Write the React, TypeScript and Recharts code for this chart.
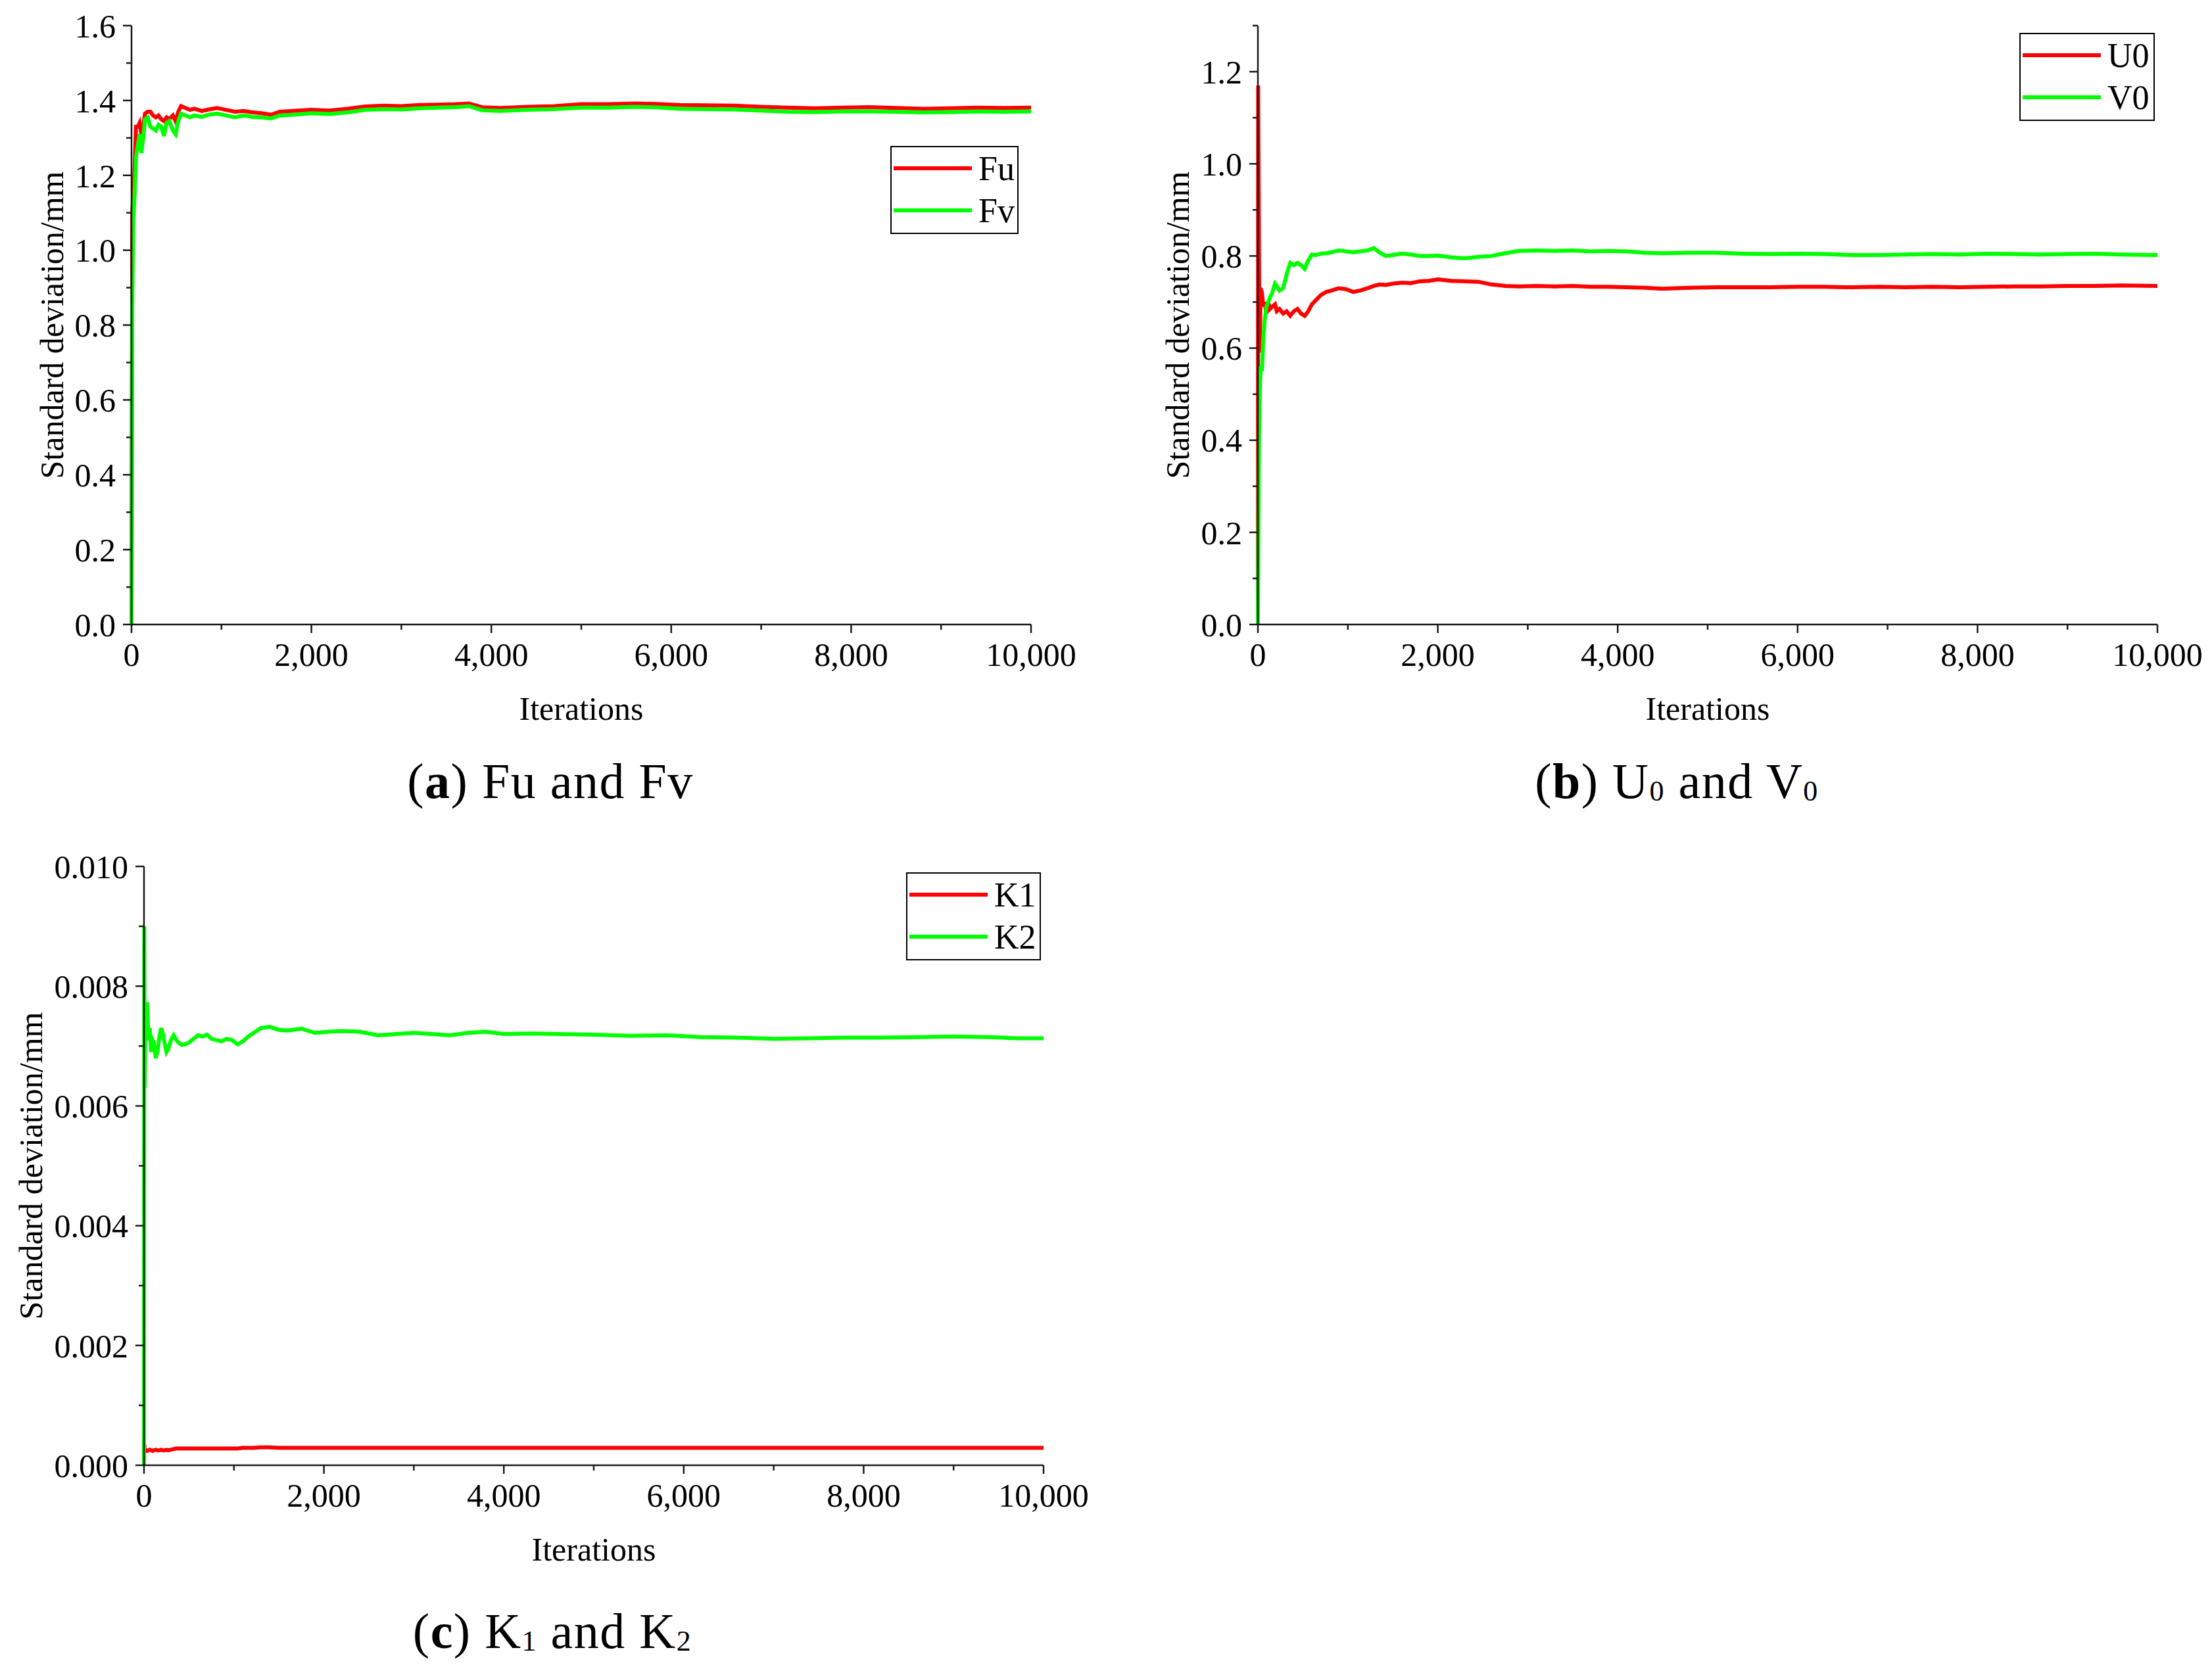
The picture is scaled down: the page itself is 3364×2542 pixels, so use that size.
import { LineChart, Line, XAxis, YAxis, Legend, Label } from 'recharts';

// ---- data ----
const X_TICKS = [0, 1000, 2000, 3000, 4000, 5000, 6000, 7000, 8000, 9000, 10000];

// (a) Fu and Fv
const A_ITER = [
  0, 8, 20, 35, 50, 70, 90, 110, 130, 150,
  180, 210, 240, 270, 300, 330, 360, 390, 420, 460,
  490, 520, 550, 600, 650, 700, 780, 860, 950, 1050,
  1150, 1250, 1350, 1450, 1550, 1650, 1800, 2000, 2200, 2400,
  2600, 2800, 3000, 3200, 3400, 3600, 3750, 3900, 4100, 4400,
  4700, 5000, 5300, 5600, 5800, 6100, 6400, 6700, 7000, 7300,
  7600, 7900, 8200, 8500, 8800, 9100, 9400, 9700, 10000,
];
const A_FU = [
  0, 1.1, 1.15, 1.22, 1.33, 1.33, 1.34, 1.31, 1.33, 1.365,
  1.37, 1.37, 1.36, 1.355, 1.36, 1.35, 1.345, 1.355, 1.35, 1.36,
  1.345, 1.37, 1.385, 1.38, 1.375, 1.378, 1.372, 1.376, 1.38, 1.375,
  1.37, 1.372, 1.368, 1.366, 1.362, 1.37, 1.372, 1.375, 1.373, 1.378,
  1.384, 1.386, 1.385, 1.388, 1.389, 1.39, 1.392, 1.382, 1.38, 1.383,
  1.385, 1.39, 1.39, 1.392, 1.391, 1.388, 1.387, 1.386, 1.383, 1.381,
  1.379, 1.381, 1.382, 1.38, 1.378, 1.379, 1.381, 1.38, 1.381,
];
const A_FV = [
  0, 0.85, 1.08, 1.15, 1.25, 1.28, 1.31, 1.26, 1.3, 1.35,
  1.355, 1.33, 1.325, 1.32, 1.335, 1.33, 1.305, 1.34, 1.345, 1.32,
  1.31, 1.345, 1.365, 1.36, 1.355, 1.36, 1.356, 1.362, 1.365, 1.36,
  1.355, 1.36, 1.356, 1.355, 1.352, 1.36, 1.362, 1.366, 1.364, 1.368,
  1.375, 1.377, 1.376, 1.379, 1.381, 1.382, 1.385, 1.374, 1.372, 1.375,
  1.377, 1.381, 1.381, 1.383, 1.382, 1.378, 1.377, 1.376, 1.373, 1.37,
  1.369, 1.371, 1.371, 1.37, 1.368, 1.369, 1.371, 1.37, 1.371,
];
const A_Y_TICKS = [0, 0.1, 0.2, 0.3, 0.4, 0.5, 0.6, 0.7, 0.8, 0.9, 1.0, 1.1, 1.2, 1.3, 1.4, 1.5, 1.6];

// (b) U0 and V0
const B_ITER = [
  0, 3, 12, 20, 30, 45, 60, 75, 95, 115,
  135, 160, 190, 210, 240, 280, 320, 360, 400, 440,
  480, 520, 560, 600, 650, 700, 760, 820, 900, 980,
  1060, 1140, 1220, 1290, 1350, 1420, 1500, 1600, 1700, 1800,
  1900, 2000, 2150, 2300, 2450, 2600, 2750, 2900, 3100, 3300,
  3500, 3700, 3900, 4100, 4300, 4500, 4800, 5100, 5400, 5700,
  6000, 6300, 6600, 6900, 7200, 7500, 7800, 8100, 8400, 8700,
  9000, 9300, 9600, 10000,
];
const B_U0 = [
  0, 1.17, 0.8, 0.59, 0.73, 0.72, 0.69, 0.7, 0.675, 0.7,
  0.685, 0.69, 0.695, 0.68, 0.685, 0.675, 0.68, 0.67, 0.68, 0.685,
  0.675, 0.67, 0.68, 0.695, 0.705, 0.715, 0.722, 0.725, 0.73, 0.728,
  0.722, 0.725, 0.73, 0.735, 0.738, 0.737, 0.74, 0.742, 0.741, 0.745,
  0.746, 0.749, 0.746, 0.745, 0.744, 0.738, 0.735, 0.734, 0.735, 0.734,
  0.735, 0.733, 0.733, 0.732, 0.731, 0.729, 0.731, 0.732, 0.732, 0.732,
  0.733, 0.733, 0.732, 0.733, 0.732, 0.733, 0.732, 0.733, 0.734, 0.734,
  0.735, 0.735, 0.736, 0.735,
];
const B_V0 = [
  0, 0.1, 0.4, 0.5, 0.56, 0.55, 0.62, 0.66, 0.69, 0.7,
  0.71, 0.72, 0.74, 0.735, 0.725, 0.73, 0.76, 0.785, 0.78, 0.785,
  0.78, 0.772, 0.79, 0.803, 0.802, 0.805, 0.806, 0.808, 0.812, 0.81,
  0.808, 0.81, 0.812, 0.817, 0.808, 0.8, 0.802, 0.805, 0.803, 0.8,
  0.8, 0.801, 0.797, 0.795, 0.798, 0.8, 0.806, 0.811, 0.812, 0.811,
  0.812, 0.81, 0.811, 0.81, 0.807, 0.806, 0.807, 0.807, 0.805, 0.804,
  0.805, 0.804, 0.802, 0.802, 0.803, 0.804, 0.803, 0.805, 0.804, 0.803,
  0.804, 0.805, 0.803, 0.802,
];
const B_Y_TICKS = [0, 0.1, 0.2, 0.3, 0.4, 0.5, 0.6, 0.7, 0.8, 0.9, 1.0, 1.1, 1.2, 1.3];

// (c) K1 and K2
const C_ITER = [
  0, 3, 8, 15, 25, 35, 50, 65, 80, 95,
  110, 130, 150, 170, 190, 210, 230, 250, 270, 300,
  330, 360, 390, 420, 460, 500, 550, 600, 650, 700,
  750, 800, 860, 920, 980, 1040, 1100, 1160, 1220, 1300,
  1400, 1500, 1600, 1750, 1900, 2050, 2200, 2400, 2600, 2800,
  3000, 3200, 3400, 3600, 3800, 4000, 4300, 4600, 5000, 5400,
  5800, 6200, 6600, 7000, 7400, 7800, 8200, 8600, 9000, 9400,
  9700, 10000,
];
const C_K1 = [
  0, 0.00035, 0.00022, 0.00026, 0.00025, 0.00024, 0.00025, 0.00026, 0.00025, 0.00024,
  0.00025, 0.00026, 0.00025, 0.00025, 0.00026, 0.00025, 0.00025, 0.00026, 0.00025, 0.00026,
  0.00027, 0.00028, 0.00028, 0.00028, 0.00028, 0.00028, 0.00028, 0.00028, 0.00028, 0.00028,
  0.00028, 0.00028, 0.00028, 0.00028, 0.00028, 0.00028, 0.00029, 0.00029, 0.00029, 0.0003,
  0.0003, 0.00029, 0.00029, 0.00029, 0.00029, 0.00029, 0.00029, 0.00029, 0.00029, 0.00029,
  0.00029, 0.00029, 0.00029, 0.00029, 0.00029, 0.00029, 0.00029, 0.00029, 0.00029, 0.00029,
  0.00029, 0.00029, 0.00029, 0.00029, 0.00029, 0.00029, 0.00029, 0.00029, 0.00029, 0.00029,
  0.00029, 0.00029,
];
const C_K2 = [
  0, 0.009, 0.0063, 0.0074, 0.0077, 0.0077, 0.0071, 0.0073, 0.0069, 0.0071,
  0.00705, 0.0068, 0.0069, 0.00715, 0.0073, 0.0072, 0.00705, 0.0069, 0.00695, 0.0071,
  0.00718, 0.0071, 0.00705, 0.00702, 0.00703, 0.00706, 0.00712, 0.00718, 0.00716, 0.00719,
  0.00712, 0.0071, 0.00708, 0.00712, 0.0071, 0.00703, 0.00708, 0.00716, 0.00722, 0.0073,
  0.00732, 0.00727, 0.00726, 0.00729, 0.00722, 0.00724, 0.00725, 0.00724, 0.00718, 0.0072,
  0.00722, 0.0072, 0.00718, 0.00722, 0.00724, 0.0072, 0.00721, 0.0072, 0.00719, 0.00717,
  0.00718, 0.00715, 0.00714, 0.00712, 0.00713, 0.00714, 0.00714, 0.00715, 0.00716, 0.00715,
  0.00713, 0.00713,
];
const C_Y_TICKS = [0, 0.001, 0.002, 0.003, 0.004, 0.005, 0.006, 0.007, 0.008, 0.009, 0.01];

// ---- layout ----
const FONT = '"Liberation Serif", "Times New Roman", serif';
const RED = '#ff0000';
const GREEN = '#00ff00';
const AXIS = '#1a1a1a';
const PLOT_W = 1368;
const PLOT_H = 911;
const MT = 40;
const MR = 75;
const XH = 170;
const TICK = 13;
const MINOR = 8;
const X_MARGIN = 14;
const Y_MARGIN = 11;

const withCommas = (v: number) => String(v).replace(/\B(?=(\d{3})+(?!\d))/g, ',');

const XTick = (props: any) => {
  const { x, y, payload } = props;
  const v = payload.value;
  const major = v % 2000 === 0;
  const axisY = y - TICK - X_MARGIN;
  return (
    <g>
      <line x1={x} x2={x} y1={axisY} y2={axisY + (major ? TICK : MINOR)} stroke={AXIS} strokeWidth={2.5} />
      {major && (
        <text x={x} y={y} dy="0.71em" textAnchor="middle" fontFamily={FONT} fontSize={50} fill="#000">
          {withCommas(v)}
        </text>
      )}
    </g>
  );
};

const makeYTick = (step: number, digits: number) => (props: any) => {
  const { x, y, payload } = props;
  const v = payload.value;
  const major = Math.round(v / step) % 2 === 0;
  const axisX = x + TICK + Y_MARGIN;
  return (
    <g>
      <line x1={axisX - (major ? TICK : MINOR)} x2={axisX} y1={y} y2={y} stroke={AXIS} strokeWidth={2.5} />
      {major && (
        <text x={x} y={y} dy="0.355em" textAnchor="end" fontFamily={FONT} fontSize={50} fill="#000">
          {v.toFixed(digits)}
        </text>
      )}
    </g>
  );
};

const LegendBox = ({ payload, w }: any) => (
  <svg width={w} height={134} style={{ display: 'block' }}>
    <rect x={1} y={1} width={w - 2} height={132} fill="#fff" stroke="#000" strokeWidth={2} />
    {(payload || []).map((p: any, i: number) => (
      <g key={p.value}>
        <line x1={5} x2={124} y1={34 + i * 64} y2={34 + i * 64} stroke={p.color} strokeWidth={6} />
        <text x={134} y={34 + i * 64} dy="0.35em" fontFamily={FONT} fontSize={52} fill="#000">
          {p.value}
        </text>
      </g>
    ))}
  </svg>
);

type PanelProps = {
  plotLeft: number;
  plotTop: number;
  yw: number;
  iter: number[];
  red: number[];
  green: number[];
  names: [string, string];
  yTicks: number[];
  yMax: number;
  yStep: number;
  yDigits: number;
  labelX: number;
  legend: { x: number; y: number; w: number };
};

const Panel = (p: PanelProps) => {
  const left = p.plotLeft - p.yw;
  const top = p.plotTop - MT;
  const data = p.iter.map((it, i) => ({ it, red: p.red[i], green: p.green[i] }));
  const axisLine = { stroke: AXIS, strokeWidth: 2.5 };
  return (
    <div style={{ position: 'absolute', left, top }}>
      <LineChart
        width={p.yw + PLOT_W + MR}
        height={MT + PLOT_H + XH}
        data={data}
        margin={{ top: MT, right: MR, left: 0, bottom: 0 }}
      >
        <XAxis
          dataKey="it"
          type="number"
          domain={[0, 10000]}
          ticks={X_TICKS}
          interval={0}
          tick={XTick}
          tickLine={false}
          tickSize={TICK}
          tickMargin={X_MARGIN}
          axisLine={axisLine}
          height={XH}
        >
          <Label
            value="Iterations"
            position="insideBottom"
            offset={25}
            style={{ fontFamily: FONT, fontSize: 50, fill: '#000' }}
          />
        </XAxis>
        <XAxis xAxisId="top" orientation="top" type="number" domain={[0, 10000]} height={0} tick={false} tickLine={false} axisLine={axisLine} />
        <YAxis
          type="number"
          domain={[0, p.yMax]}
          ticks={p.yTicks}
          interval={0}
          tick={makeYTick(p.yStep, p.yDigits)}
          tickLine={false}
          tickSize={TICK}
          tickMargin={Y_MARGIN}
          axisLine={axisLine}
          width={p.yw}
        >
          <Label
            value="Standard deviation/mm"
            angle={-90}
            position="insideLeft"
            offset={p.labelX - left}
            style={{ fontFamily: FONT, fontSize: 50, fill: '#000', textAnchor: 'middle' }}
          />
        </YAxis>
        <YAxis yAxisId="right" orientation="right" type="number" domain={[0, 1]} width={0} tick={false} tickLine={false} axisLine={axisLine} />
        <Legend
          layout="horizontal"
          verticalAlign="middle"
          align="center"
          width={p.legend.w}
          height={134}
          wrapperStyle={{ left: p.legend.x - left, top: p.legend.y - top, width: p.legend.w, height: 134 }}
          content={(lp: any) => <LegendBox payload={lp.payload} w={p.legend.w} />}
        />
        <Line name={p.names[0]} dataKey="red" stroke={RED} strokeWidth={6} dot={false} type="linear" isAnimationActive={false} />
        <Line name={p.names[1]} dataKey="green" stroke={GREEN} strokeWidth={6} dot={false} type="linear" isAnimationActive={false} />
      </LineChart>
    </div>
  );
};

const Captions = () => (
  <svg width={3364} height={2542} style={{ position: 'absolute', left: 0, top: 0, pointerEvents: 'none' }}>
    <g fontFamily={FONT} fontSize={76} fill="#000" textAnchor="middle" letterSpacing={1.5}>
      <text x={837} y={1214}>
        (<tspan fontWeight="bold">a</tspan>) Fu and Fv
      </text>
      <text x={2550} y={1214}>
        (<tspan fontWeight="bold">b</tspan>) U<tspan fontSize={44} dy={4}>0</tspan>
        <tspan dy={-4}> and V</tspan>
        <tspan fontSize={44} dy={4}>0</tspan>
      </text>
      <text x={840} y={2507}>
        (<tspan fontWeight="bold">c</tspan>) K<tspan fontSize={44} dy={4}>1</tspan>
        <tspan dy={-4}> and K</tspan>
        <tspan fontSize={44} dy={4}>2</tspan>
      </text>
    </g>
  </svg>
);

export default function App() {
  return (
    <div style={{ position: 'absolute', left: 0, top: 0, width: 3364, height: 2542, background: '#fff', overflow: 'hidden' }}>
      <Panel
        plotLeft={200}
        plotTop={39}
        yw={200}
        iter={A_ITER}
        red={A_FU}
        green={A_FV}
        names={['Fu', 'Fv']}
        yTicks={A_Y_TICKS}
        yMax={1.6}
        yStep={0.1}
        yDigits={1}
        labelX={78}
        legend={{ x: 1354, y: 222, w: 195 }}
      />
      <Panel
        plotLeft={1913}
        plotTop={39}
        yw={200}
        iter={B_ITER}
        red={B_U0}
        green={B_V0}
        names={['U0', 'V0']}
        yTicks={B_Y_TICKS}
        yMax={1.3}
        yStep={0.1}
        yDigits={1}
        labelX={1790}
        legend={{ x: 3071, y: 50, w: 206 }}
      />
      <Panel
        plotLeft={219}
        plotTop={1318}
        yw={219}
        iter={C_ITER}
        red={C_K1}
        green={C_K2}
        names={['K1', 'K2']}
        yTicks={C_Y_TICKS}
        yMax={0.01}
        yStep={0.001}
        yDigits={3}
        labelX={46}
        legend={{ x: 1378, y: 1327, w: 205 }}
      />
      <Captions />
    </div>
  );
}
